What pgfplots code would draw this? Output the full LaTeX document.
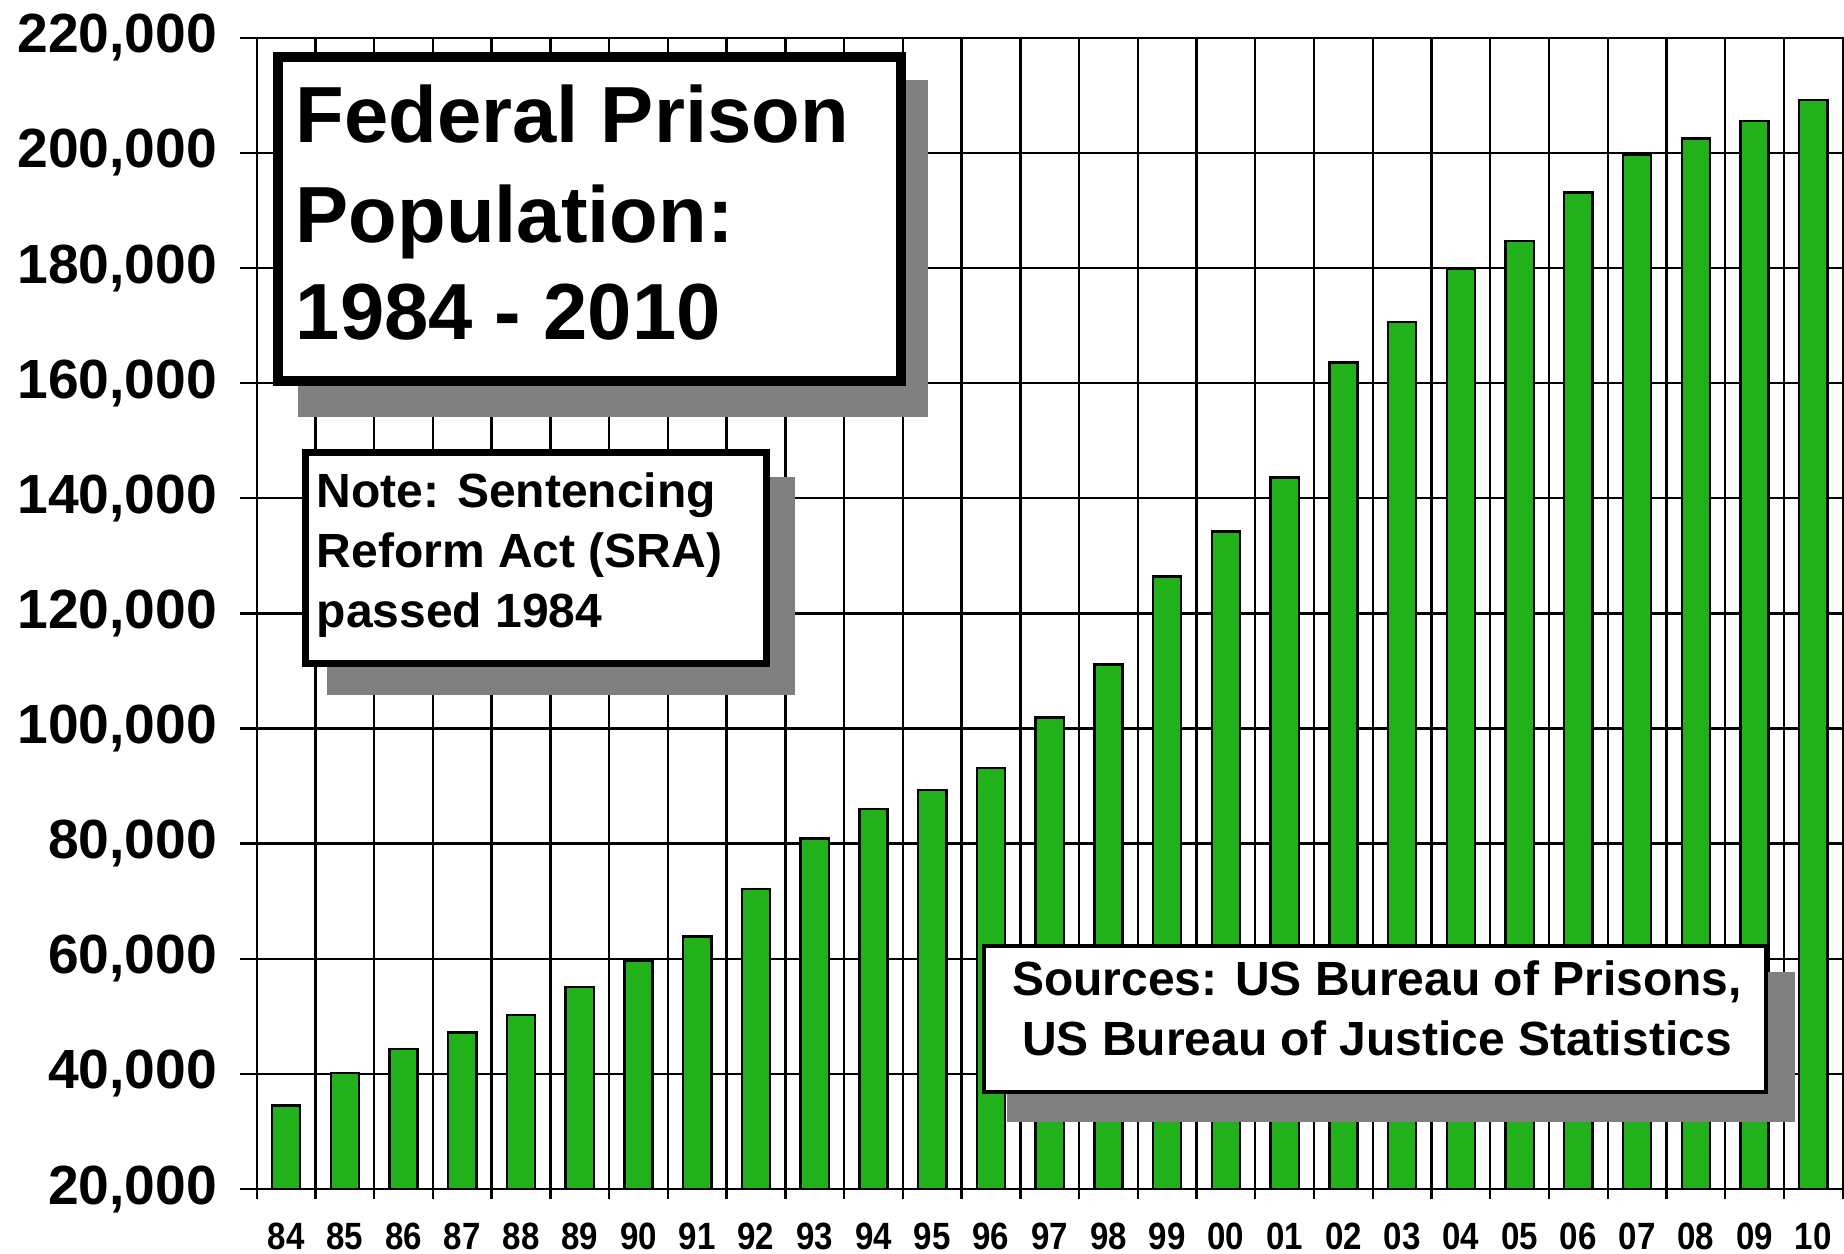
\documentclass[border=0pt]{standalone}
\usepackage{fontspec}
\setmainfont{Liberation Sans}
\newfontfamily\condfont{Liberation Sans}[FakeStretch=0.87]
\usepackage{pgfplots}
\pgfplotsset{compat=1.18}
\definecolor{barGreen}{RGB}{33,178,27}
\definecolor{shadowGray}{RGB}{128,128,128}
\begin{document}
\begin{tikzpicture}
\begin{axis}[
  name=ax,
  at={(64.175pt,-297.25pt)}, anchor=south west,
  scale only axis, width=396.5pt, height=287.8pt,
  xmin=-0.5, xmax=26.5, ymin=20000, ymax=220000,
  xtick={0,...,26},
  xticklabels={84,85,86,87,88,89,90,91,92,93,94,95,96,97,98,99,00,01,02,03,04,05,06,07,08,09,10},
  minor xtick={-0.5,0.5,...,26.5},
  ytick={20000,40000,60000,80000,100000,120000,140000,160000,180000,200000,220000},
  yticklabels={{20,000},{40,000},{60,000},{80,000},{100,000},{120,000},{140,000},{160,000},{180,000},{200,000},{220,000}},
  scaled y ticks=false,
  tick pos=left, tick align=outside,
  major tick length=4.25pt, minor tick length=2.5pt,
  major x tick style={draw=none},
  xminorgrids=true, ymajorgrids=true, xmajorgrids=false,
  grid style={black, line width=0.6pt},
  minor grid style={black, line width=0.6pt},
  axis line style={black, line width=0.6pt},
  every tick/.style={black, line width=0.6pt},
  yticklabel style={font=\fontsize{13.8}{16}\selectfont\bfseries, inner sep=0pt, xshift=-5.5pt},
  xticklabel style={font=\condfont\fontsize{9.5}{11}\selectfont\bfseries, inner sep=0pt, yshift=-4.15pt},
]
\addplot[ybar, bar width=0.48, fill=barGreen, draw=black, line width=0.6pt] coordinates {
(0,34500) (1,40200) (2,44300) (3,47200) (4,50200) (5,55100) (6,59600) (7,63900)
(8,72100) (9,80900) (10,86000) (11,89300) (12,93100) (13,101900) (14,111100)
(15,126400) (16,134200) (17,143600) (18,163600) (19,170600) (20,179800)
(21,184700) (22,193100) (23,199600) (24,202500) (25,205500) (26,209200)};
\end{axis}
\begin{scope}[x=0.25pt, y=-0.25pt]
  % title box
  \fill[shadowGray] (298,80) rectangle (928,417);
  \draw[line width=2.5pt, fill=white] (278,57) rectangle (900.5,381);
  \node[anchor=base west, inner sep=0pt, font=\fontsize{19.9}{24}\selectfont\bfseries] at (295,142) {Federal Prison};
  \node[anchor=base west, inner sep=0pt, font=\fontsize{19.9}{24}\selectfont\bfseries] at (295,242) {Population:};
  \node[anchor=base west, inner sep=0pt, font=\fontsize{19.9}{24}\selectfont\bfseries] at (295,339) {1984 - 2010};
  % note box
  \fill[shadowGray] (327,477) rectangle (795,695);
  \draw[line width=1.75pt, fill=white] (305.5,452.5) rectangle (766.5,663.5);
  \node[anchor=base west, inner sep=0pt, font=\fontsize{12}{14}\selectfont\bfseries] at (316,507) {Note: Sentencing};
  \node[anchor=base west, inner sep=0pt, font=\fontsize{12}{14}\selectfont\bfseries] at (316,567) {Reform Act (SRA)};
  \node[anchor=base west, inner sep=0pt, font=\fontsize{12}{14}\selectfont\bfseries] at (316,627) {passed 1984};
  % sources box
  \fill[shadowGray] (1007,972) rectangle (1795,1122);
  \draw[line width=1pt, fill=white] (984,946) rectangle (1765.5,1092);
  \node[anchor=base, inner sep=0pt, font=\fontsize{12}{14}\selectfont\bfseries] at (1377,995) {Sources: US Bureau of Prisons,};
  \node[anchor=base, inner sep=0pt, font=\fontsize{12}{14}\selectfont\bfseries] at (1377,1055) {US Bureau of Justice Statistics};
  \pgfresetboundingbox
  \path[use as bounding box] (0,0) rectangle (1844,1254);
\end{scope}
\end{tikzpicture}
\end{document}
